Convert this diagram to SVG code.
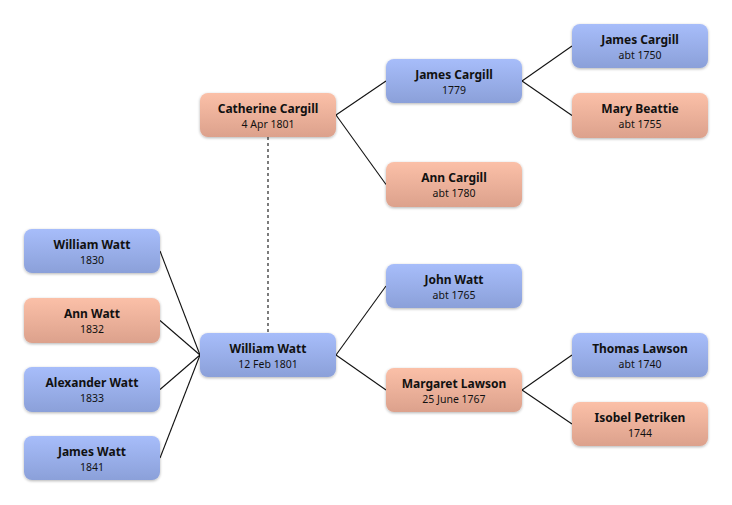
<svg xmlns="http://www.w3.org/2000/svg" width="732" height="505" viewBox="0 0 732 505">
<defs>
<linearGradient id="gb" x1="0" y1="0" x2="0" y2="1"><stop offset="0" stop-color="#a7bdfa"/><stop offset="1" stop-color="#8ba0d9"/></linearGradient>
<linearGradient id="gp" x1="0" y1="0" x2="0" y2="1"><stop offset="0" stop-color="#fbc0a8"/><stop offset="1" stop-color="#dca18c"/></linearGradient>
<filter id="sh" x="-10%" y="-20%" width="120%" height="150%"><feGaussianBlur in="SourceAlpha" stdDeviation="1.5"/><feOffset dy="1"/><feComponentTransfer><feFuncA type="linear" slope="0.3"/></feComponentTransfer><feMerge><feMergeNode/><feMergeNode in="SourceGraphic"/></feMerge></filter>
</defs>
<style>
.m rect{fill:url(#gb);filter:url(#sh)}
.f rect{fill:url(#gp);filter:url(#sh)}
.n{font-family:"Noto Sans","DejaVu Sans",sans-serif;font-weight:bold;font-size:12px;fill:#111;text-anchor:middle}
.d{font-family:"Noto Sans","DejaVu Sans",sans-serif;font-size:10.5px;fill:#111;text-anchor:middle}
.c line{stroke:#111;stroke-width:1.1}
</style>
<rect width="732" height="505" fill="#fff"/>
<g class="c">
<line x1="160" y1="251" x2="200" y2="355"/>
<line x1="160" y1="320.5" x2="200" y2="355"/>
<line x1="160" y1="389.5" x2="200" y2="355"/>
<line x1="160" y1="458" x2="200" y2="355"/>
<line x1="336" y1="355" x2="386" y2="286"/>
<line x1="336" y1="355" x2="386" y2="390"/>
<line x1="522" y1="390" x2="572" y2="355"/>
<line x1="522" y1="390" x2="572" y2="424"/>
<line x1="336" y1="115" x2="386" y2="81"/>
<line x1="336" y1="115" x2="386" y2="184.5"/>
<line x1="522" y1="81" x2="572" y2="46"/>
<line x1="522" y1="81" x2="572" y2="115.5"/>
<line x1="268" y1="137" x2="268" y2="333" stroke="#666" stroke-width="2" stroke-dasharray="3,3"/>
</g>
<g id="william1830" class="m"><rect x="24" y="229" width="136" height="44" rx="8"/><text class="n" x="92" y="249">William Watt</text><text class="d" x="92" y="264">1830</text></g>
<g id="ann1832" class="f"><rect x="24" y="298" width="136" height="45" rx="8"/><text class="n" x="92" y="318">Ann Watt</text><text class="d" x="92" y="333">1832</text></g>
<g id="alexander1833" class="m"><rect x="24" y="367" width="136" height="45" rx="8"/><text class="n" x="92" y="387">Alexander Watt</text><text class="d" x="92" y="402">1833</text></g>
<g id="james1841" class="m"><rect x="24" y="436" width="136" height="44" rx="8"/><text class="n" x="92" y="456">James Watt</text><text class="d" x="92" y="471">1841</text></g>
<g id="william1801" class="m"><rect x="200" y="333" width="136" height="44" rx="8"/><text class="n" x="268" y="353">William Watt</text><text class="d" x="268" y="368">12 Feb 1801</text></g>
<g id="catherine" class="f"><rect x="200" y="93" width="136" height="44" rx="8"/><text class="n" x="268" y="113">Catherine Cargill</text><text class="d" x="268" y="128">4 Apr 1801</text></g>
<g id="james1779" class="m"><rect x="386" y="59" width="136" height="44" rx="8"/><text class="n" x="454" y="79">James Cargill</text><text class="d" x="454" y="94">1779</text></g>
<g id="ann1780" class="f"><rect x="386" y="162" width="136" height="45" rx="8"/><text class="n" x="454" y="182">Ann Cargill</text><text class="d" x="454" y="197">abt 1780</text></g>
<g id="john1765" class="m"><rect x="386" y="264" width="136" height="44" rx="8"/><text class="n" x="454" y="284">John Watt</text><text class="d" x="454" y="299">abt 1765</text></g>
<g id="margaret" class="f"><rect x="386" y="368" width="136" height="44" rx="8"/><text class="n" x="454" y="388">Margaret Lawson</text><text class="d" x="454" y="403">25 June 1767</text></g>
<g id="james1750" class="m"><rect x="572" y="24" width="136" height="44" rx="8"/><text class="n" x="640" y="44">James Cargill</text><text class="d" x="640" y="59">abt 1750</text></g>
<g id="mary" class="f"><rect x="572" y="93" width="136" height="45" rx="8"/><text class="n" x="640" y="113">Mary Beattie</text><text class="d" x="640" y="128">abt 1755</text></g>
<g id="thomas" class="m"><rect x="572" y="333" width="136" height="44" rx="8"/><text class="n" x="640" y="353">Thomas Lawson</text><text class="d" x="640" y="368">abt 1740</text></g>
<g id="isobel" class="f"><rect x="572" y="402" width="136" height="44" rx="8"/><text class="n" x="640" y="422">Isobel Petriken</text><text class="d" x="640" y="437">1744</text></g>
</svg>
